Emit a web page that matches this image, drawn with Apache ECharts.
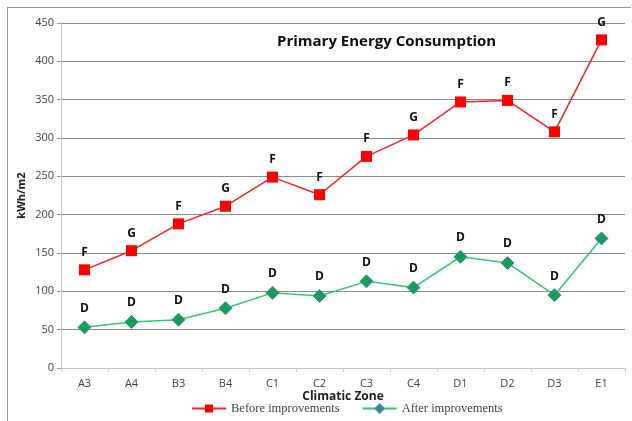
<!DOCTYPE html>
<html>
<head>
<meta charset="utf-8">
<script src="https://cdn.jsdelivr.net/npm/echarts@6/dist/echarts.min.js"></script>
<style>
  html, body { margin: 0; padding: 0; background: #fff; }
  #frame { position: absolute; left: 7px; top: 7px; width: 624px; height: 420px; border-left: 1px solid #999; border-top: 1px solid #999; box-sizing: border-box; }
  #chart { position: absolute; left: 0; top: 0; width: 632px; height: 421px; }
</style>
</head>
<body>
<div id="frame"></div>
<div id="chart"></div>
<script>
const zones = ['A3', 'A4', 'B3', 'B4', 'C1', 'C2', 'C3', 'C4', 'D1', 'D2', 'D3', 'E1']
const before = [128, 153, 188, 211, 249, 226, 276, 304, 347, 349, 308, 428]
const after = [53, 60, 63, 78, 98, 94, 113, 105, 145, 137, 95, 169]
const beforeClass = ['F', 'G', 'F', 'G', 'F', 'F', 'F', 'G', 'F', 'F', 'F', 'G']
const afterClass = ['D', 'D', 'D', 'D', 'D', 'D', 'D', 'D', 'D', 'D', 'D', 'D']

const font = 'Open Sans, Liberation Sans, sans-serif'
const chart = echarts.init(document.getElementById('chart'))

const lbl = cls => ({
  show: true, position: 'top', distance: 6,
  formatter: p => cls[p.dataIndex],
  color: '#111', fontWeight: 'bold', fontSize: 12, fontFamily: font,
})

chart.setOption({
  animation: false,
  title: {
    text: 'Primary Energy Consumption', left: 272, top: 29,
    textStyle: { fontFamily: font, fontWeight: 'bold', fontSize: 15, color: '#111' },
  },
  legend: {
    bottom: 1, left: 186, itemGap: 22, itemWidth: 34, itemHeight: 10,
    textStyle: { fontFamily: 'Liberation Serif, serif', fontSize: 12.5, color: '#444' },
  },
  grid: { left: 61, right: 7, top: 23, bottom: 53 },
  xAxis: {
    type: 'category', data: zones,
    name: 'Climatic Zone', nameLocation: 'middle', nameGap: 23, nameMoveOverlap: false,
    nameTextStyle: { fontFamily: font, fontWeight: 'bold', fontSize: 12, color: '#222' },
    axisLine: { lineStyle: { color: '#c8c8c8' } },
    axisTick: { show: true, length: 4, lineStyle: { color: '#ccc' } },
    axisLabel: { color: '#444', fontFamily: font, fontSize: 11, margin: 10 },
  },
  yAxis: {
    type: 'value', min: 0, max: 450, interval: 50,
    name: 'kWh/m2', nameLocation: 'middle', nameGap: 34, nameRotate: 90, nameMoveOverlap: false,
    nameTextStyle: { fontFamily: font, fontWeight: 'bold', fontSize: 11, color: '#222' },
    axisLine: { show: true, lineStyle: { color: '#c8c8c8' } },
    axisTick: { show: true, length: 4, lineStyle: { color: '#999' } },
    axisLabel: { color: '#444', fontFamily: font, fontSize: 11, margin: 7 },
    splitLine: { lineStyle: { color: '#8c8c8c', width: 1 } },
  },
  series: [
    {
      name: 'Before improvements', type: 'line', data: before,
      symbol: 'rect', symbolSize: 11,
      lineStyle: { color: '#ff2020', width: 1.5 },
      itemStyle: { color: '#ff0000' },
      label: lbl(beforeClass),
    },
    {
      name: 'After improvements', type: 'line', data: after,
      symbol: 'diamond', symbolSize: 13,
      lineStyle: { color: '#2ecc6a', width: 1.5 },
      itemStyle: { color: '#13a050', borderColor: '#4a7fc0', borderWidth: 1 },
      label: lbl(afterClass),
    },
  ],
})
</script>
</body>
</html>
